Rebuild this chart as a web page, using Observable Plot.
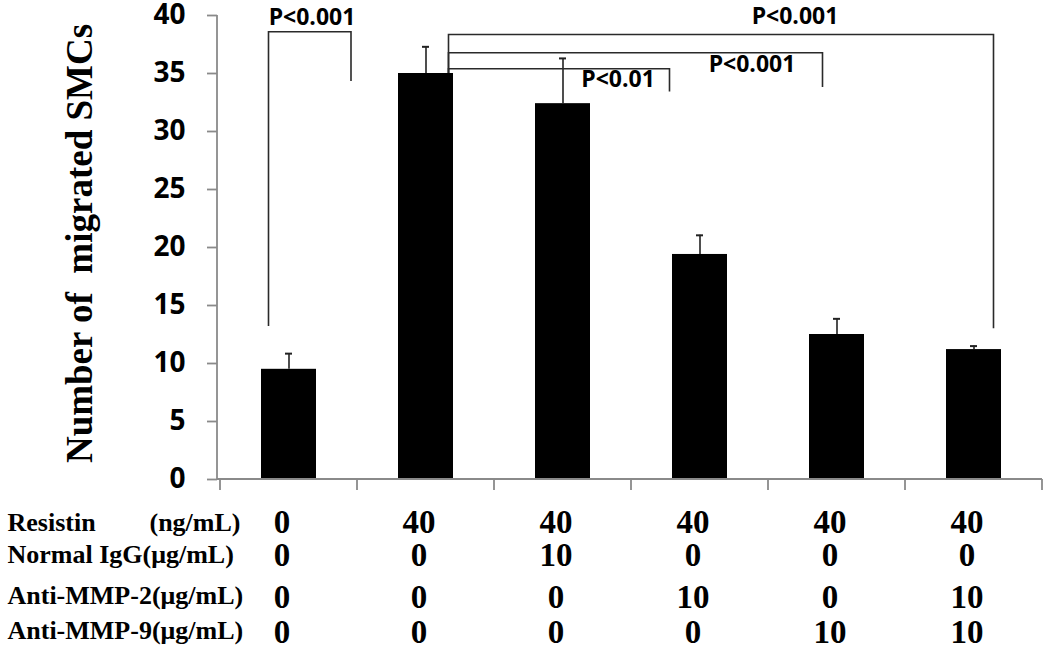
<!DOCTYPE html>
<html>
<head>
<meta charset="utf-8">
<script src="https://cdn.jsdelivr.net/npm/d3@7"></script>
<script src="https://cdn.jsdelivr.net/npm/@observablehq/plot@0.6"></script>
<style>
  html, body { margin: 0; padding: 0; background: #fff; }
  svg g[aria-label^="y-axis"] text { font-family: "Open Sans", sans-serif; font-weight: 700; font-size: 28px; fill: #000; }
  svg g[aria-label^="y-axis"] line, svg g[aria-label^="y-axis"] path { stroke: #8a8a8a; stroke-width: 1.8px; }
</style>
</head>
<body>
<div id="chart"></div>
<script>
// ---- data ----
const categories = ["Control", "Resistin", "Resistin+IgG", "Resistin+Anti-MMP-2", "Resistin+Anti-MMP-9", "Resistin+Anti-MMP-2+9"];
const values = [9.5, 35.0, 32.4, 19.4, 12.5, 11.2];
const errors = [1.35, 2.3, 3.9, 1.65, 1.35, 0.3];
const yTicks = [0, 5, 10, 15, 20, 25, 30, 35, 40];

const rowLabels = ["Resistin", "Normal IgG(\u03bcg/mL)", "Anti-MMP-2(\u03bcg/mL)", "Anti-MMP-9(\u03bcg/mL)"];
const resistin = [0, 40, 40, 40, 40, 40];
const normalIgG = [0, 0, 10, 0, 0, 0];
const antiMMP2 = [0, 0, 0, 10, 0, 10];
const antiMMP9 = [0, 0, 0, 0, 10, 10];

// significance brackets (group pairs, bracket level, leg end values, labels)
const bracketFrom = ["Control", "Resistin", "Resistin", "Resistin"];
const bracketTo = ["Resistin", "Resistin+Anti-MMP-2", "Resistin+Anti-MMP-9", "Resistin+Anti-MMP-2+9"];
const bracketLevel = [38.55, 35.37, 36.75, 38.32];
const bracketLegA = [13.2, 35.0, 35.0, 35.0];
const bracketLegB = [34.3, 33.4, 33.8, 13.0];
const bracketLabel = ["P<0.001", "P<0.01", "P<0.001", "P<0.001"];

// ---- styles (pixel offsets) ----
const bracketOffA = [-20, 23, 23, 23];
const bracketOffB = [-74.5, -30, -14, 20];
const labelDx = [-114, -82, -85, -179];   // relative to the "to" group centre
const labelDy = [-7.5, 17.5, 19, -11];    // baseline relative to bracket level
const rowValueDy = [53, 86, 128, 163];
const rowLabelDy = [51, 83, 124, 159];

const W = 1050, H = 653;
const mL = 217, mR = 6, mT = 15, mB = 174;

function bandCenter(x, c) {
  const bw = typeof x.bandwidth === "function" ? x.bandwidth() : x.bandwidth;
  return x(c) + bw / 2;
}

// axis lines and category boundary ticks
function axesMark(index, scales, values_, dims) {
  const x = scales.x, y = scales.y;
  const bw = typeof x.bandwidth === "function" ? x.bandwidth() : x.bandwidth;
  const g = d3.create("svg:g").attr("stroke", "#8a8a8a").attr("stroke-width", 1.8).attr("fill", "none");
  const y0 = y(0);
  const edges = categories.map(c => x(c)).concat([x(categories[categories.length - 1]) + bw]);
  g.append("line").attr("x1", dims.marginLeft).attr("x2", edges[edges.length - 1]).attr("y1", y0).attr("y2", y0);
  g.append("line").attr("x1", dims.marginLeft).attr("x2", dims.marginLeft).attr("y1", y(yTicks[yTicks.length - 1])).attr("y2", y0);
  edges.forEach(e => g.append("line").attr("x1", e).attr("x2", e).attr("y1", y0).attr("y2", y0 + 11));
  return g.node();
}

function bracketMark(index, scales) {
  const x = scales.x, y = scales.y;
  const g = d3.create("svg:g").attr("fill", "none").attr("stroke", "#2a2a2a").attr("stroke-width", 1.6);
  bracketFrom.forEach((f, i) => {
    const xa = bandCenter(x, f) + bracketOffA[i];
    const xb = bandCenter(x, bracketTo[i]) + bracketOffB[i];
    const yl = y(bracketLevel[i]);
    g.append("path").attr("d", `M${xa},${y(bracketLegA[i])}V${yl}H${xb}V${y(bracketLegB[i])}`);
  });
  return g.node();
}

const serif = "'Liberation Serif', 'Times New Roman', serif";
const sans = "'Open Sans', sans-serif";
const rows = [resistin, normalIgG, antiMMP2, antiMMP9];

const marks = [
  Plot.barY(values, {x: categories, y: values, fill: "#000", insetLeft: 41, insetRight: 41}),
  Plot.ruleX(values, {x: categories, y1: values, y2: values.map((v, i) => v + errors[i]), stroke: "#222", strokeWidth: 1.6}),
  Plot.tickY(values, {x: categories, y: values.map((v, i) => v + errors[i]), stroke: "#222", strokeWidth: 2, insetLeft: 65, insetRight: 65}),
  axesMark,
  bracketMark,
  ...bracketLabel.map((lab, i) => Plot.text([lab], {
    x: [bracketTo[i]], y: [bracketLevel[i]], text: d => d,
    dx: labelDx[i], dy: labelDy[i], lineAnchor: "bottom",
    fontFamily: sans, fontWeight: 700, fontSize: 23, fill: "#000"
  })),
  Plot.text(["Number of  migrated SMCs"], {
    frameAnchor: "left", text: d => d, rotate: -90, dx: -126, dy: -4, textAnchor: "middle",
    lineAnchor: "bottom", fontFamily: serif, fontWeight: 700, fontSize: 37, fill: "#000"
  }),
  ...rows.map((row, r) => Plot.text(row, {
    x: categories, text: d => String(d), frameAnchor: "bottom", dy: rowValueDy[r], dx: -7,
    lineAnchor: "bottom", fontFamily: serif, fontWeight: 700, fontSize: 33, fill: "#000"
  })),
  ...rowLabels.map((lab, r) => Plot.text([lab], {
    text: d => d, frameAnchor: "bottom-left", textAnchor: "start", dx: 7 - mL, dy: rowLabelDy[r],
    lineAnchor: "bottom", fontFamily: serif, fontWeight: 700, fontSize: 26, fill: "#000"
  })),
  Plot.text(["(ng/mL)"], {
    text: d => d, frameAnchor: "bottom-left", textAnchor: "end", dx: 240 - mL, dy: rowLabelDy[0],
    lineAnchor: "bottom", fontFamily: serif, fontWeight: 700, fontSize: 26, fill: "#000"
  })
];

const chart = Plot.plot({
  width: W, height: H,
  marginLeft: mL, marginRight: mR, marginTop: mT, marginBottom: mB,
  style: {background: "#fff", color: "#000", overflow: "visible"},
  x: {domain: categories, padding: 0, axis: null},
  y: {domain: [0, 40], ticks: yTicks, tickSize: 10, tickPadding: 22, label: null, tickFormat: d => String(d)},
  marks
});
document.getElementById("chart").appendChild(chart);
</script>
</body>
</html>
